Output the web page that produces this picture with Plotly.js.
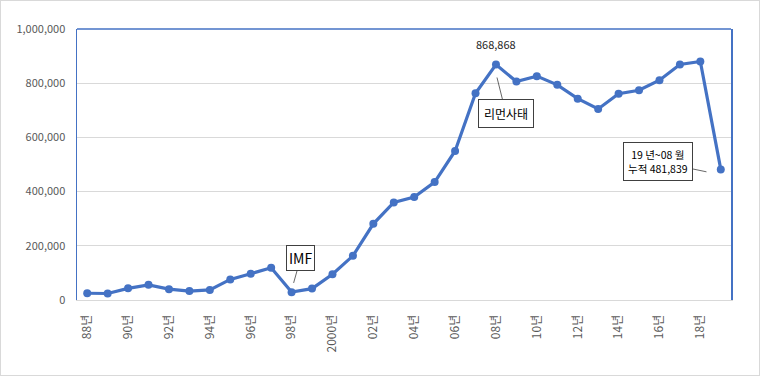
<!DOCTYPE html>
<html>
<head>
<meta charset="utf-8">
<script src="https://cdn.plot.ly/plotly-3.0.1.min.js"></script>
<style>
html,body{margin:0;padding:0;background:#fff;}
#chart{width:760px;height:376px;background:#fff;box-shadow:inset 0 0 0 1px #d9d9d9;}
</style>
</head>
<body>
<div id="chart"></div>
<script>
const years = ['88년','89년','90년','91년','92년','93년','94년','95년','96년','97년','98년','99년','2000년','01년','02년','03년','04년','05년','06년','07년','08년','09년','10년','11년','12년','13년','14년','15년','16년','17년','18년','19년'];
const values = [25000,24000,43000,56000,40000,33000,37000,76000,97000,119000,29000,42000,95000,163000,281000,360000,380000,435000,550000,763000,868868,806000,826000,794000,743000,705000,761000,774000,811000,869000,880000,481839];
const tickLabels = ['88년','90년','92년','94년','96년','98년','2000년','02년','04년','06년','08년','10년','12년','14년','16년','18년'];
const yTicks = [0,200000,400000,600000,800000,1000000];
const yTickText = ['0','200,000','400,000','600,000','800,000','1,000,000'];

const FONT = '"Noto Sans CJK KR", "Noto Sans", sans-serif';
const BLUE = '#4472C4';

const trace = {
  x: years,
  y: values,
  type: 'scatter',
  mode: 'lines+markers',
  line: {color: BLUE, width: 3.2},
  marker: {color: BLUE, size: 8},
  hoverinfo: 'skip'
};

const peakIdx = years.indexOf('08년');
const lastIdx = years.length - 1;

const layout = {
  width: 760,
  height: 376,
  margin: {l: 77, r: 29, t: 29, b: 76},
  paper_bgcolor: 'rgba(0,0,0,0)',
  plot_bgcolor: '#fff',
  showlegend: false,
  font: {family: FONT, color: '#595959', size: 11},
  xaxis: {
    type: 'category',
    categoryorder: 'array',
    categoryarray: years,
    range: [-0.5, years.length - 0.5],
    tickmode: 'array',
    tickvals: tickLabels,
    ticktext: tickLabels,
    tickangle: -90,
    tickfont: {family: FONT, size: 12, color: '#595959'},
    ticklabelstandoff: 9,
    showgrid: false,
    showline: true,
    linecolor: '#d9d9d9',
    linewidth: 1,
    ticks: '',
    zeroline: false,
    fixedrange: true
  },
  yaxis: {
    range: [0, 1000000],
    tickmode: 'array',
    tickvals: yTicks,
    ticktext: yTickText,
    tickfont: {family: FONT, size: 11, color: '#595959'},
    showgrid: true,
    gridcolor: '#d9d9d9',
    gridwidth: 1,
    showline: true,
    mirror: true,
    linecolor: BLUE,
    linewidth: 1.5,
    ticks: '',
    ticklabelstandoff: 8,
    zeroline: false,
    fixedrange: true
  },
  shapes: [
    {type: 'line', xref: 'paper', yref: 'paper', x0: 0, x1: 1, y0: 1, y1: 1,
     line: {color: BLUE, width: 1.5}}
  ],
  annotations: [
    {x: peakIdx, y: values[peakIdx], xref: 'x', yref: 'y', yshift: 21,
     text: values[peakIdx].toLocaleString('en-US'), showarrow: false,
     font: {family: FONT, size: 11, color: '#262626'}},
    {x: years.indexOf('98년') + 0.1, y: 63000, xref: 'x', yref: 'y',
     ax: 7, ay: -25, showarrow: true, arrowhead: 0, arrowwidth: 0.8, arrowcolor: '#404040',
     text: 'IMF', font: {family: FONT, size: 14, color: '#000'},
     bgcolor: '#fff', bordercolor: '#404040', borderwidth: 1, borderpad: 2},
    {x: peakIdx + 0.05, y: 821000, xref: 'x', yref: 'y',
     ax: 9, ay: 36, showarrow: true, arrowhead: 0, arrowwidth: 0.8, arrowcolor: '#404040',
     text: '리먼사태', font: {family: FONT, size: 12, color: '#000'},
     bgcolor: '#fff', bordercolor: '#404040', borderwidth: 1, borderpad: 5},
    {x: lastIdx - 0.7, y: 473000, xref: 'x', yref: 'y',
     ax: -48, ay: -10, showarrow: true, arrowhead: 0, arrowwidth: 0.8, arrowcolor: '#404040',
     text: '19 년~08 월<br>누적 ' + values[lastIdx].toLocaleString('en-US'),
     font: {family: FONT, size: 10.5, color: '#000'},
     bgcolor: '#fff', bordercolor: '#404040', borderwidth: 1, borderpad: 4}
  ]
};

Plotly.newPlot('chart', [trace], layout, {displayModeBar: false, staticPlot: true});
</script>
</body>
</html>
